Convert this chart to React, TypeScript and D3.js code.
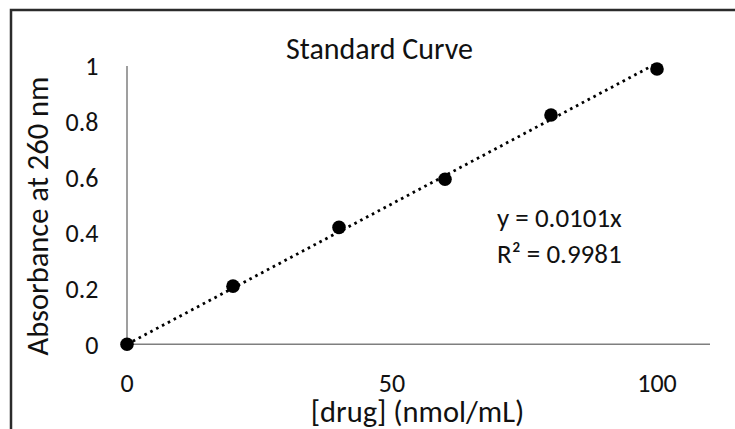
import React from "react";
import * as d3 from "d3";

const xValues = [0, 20, 40, 60, 80, 100];
const yValues = [0, 0.209, 0.42, 0.593, 0.824, 0.989];
const xTicks = [0, 50, 100];
const yTicks = [0, 0.2, 0.4, 0.6, 0.8, 1];
const slope = 0.0101;
const trendRange = [0, 100];
const title = "Standard Curve";
const xTitle = "[drug] (nmol/mL)";
const yTitle = "Absorbance at 260 nm";
const eqLines = ["y = 0.0101x", "R² = 0.9981"];

const W = 735;
const H = 429;
const FONT = "Carlito, Calibri, Lato, sans-serif";

export default function App() {
  const x = d3.scaleLinear().domain([0, 110]).range([127, 710]);
  const y = d3.scaleLinear().domain([0, 1]).range([344.3, 66]);
  const line = d3
    .line<number>()
    .x((d) => x(d))
    .y((d) => y(slope * d));
  const pts = xValues.map((v, i) => ({ x: v, y: yValues[i] }));
  const axisColor = "#7f7f7f";
  return (
    <svg
      width={W}
      height={H}
      style={{ position: "absolute", left: 0, top: 0, background: "#fff" }}
      fontFamily={FONT}
    >
      <rect x={0} y={0} width={W} height={H} fill="#fff" />
      <rect
        x={11}
        y={10}
        width={W + 20}
        height={H + 20}
        fill="none"
        stroke="#2b2b2b"
        strokeWidth={2.5}
      />
      <text x={379.5} y={59} textAnchor="middle" fontSize={30} fill="#111">
        {title}
      </text>
      {/* axes */}
      <line x1={x(0)} x2={x(0)} y1={y(1)} y2={y(0)} stroke={axisColor} strokeWidth={1.5} />
      <line x1={x(0)} x2={x(110)} y1={y(0)} y2={y(0)} stroke={axisColor} strokeWidth={1.5} />
      {yTicks.map((t) => (
        <text
          key={"y" + t}
          x={98.5}
          y={y(t)}
          dy="0.36em"
          textAnchor="end"
          fontSize={26}
          fill="#111"
        >
          {d3.format("~g")(t)}
        </text>
      ))}
      {xTicks.map((t) => (
        <text key={"x" + t} x={x(t)} y={391.5} textAnchor="middle" fontSize={26} fill="#111">
          {t}
        </text>
      ))}
      <text x={417.5} y={421.5} textAnchor="middle" fontSize={30.5} fill="#111">
        {xTitle}
      </text>
      <text
        transform={`translate(48,216) rotate(-90)`}
        textAnchor="middle"
        fontSize={30.5}
        fill="#111"
      >
        {yTitle}
      </text>
      {/* trendline */}
      <path
        d={line(trendRange) || ""}
        fill="none"
        stroke="#000"
        strokeWidth={2.8}
        strokeDasharray="2.6 4"
      />
      {pts.map((p, i) => (
        <circle key={i} cx={x(p.x)} cy={y(p.y)} r={6.8} fill="#000" />
      ))}
      {eqLines.map((s, i) => (
        <text key={s} x={497} y={226.7 + i * 36} fontSize={27} fill="#111">
          {s}
        </text>
      ))}
    </svg>
  );
}
